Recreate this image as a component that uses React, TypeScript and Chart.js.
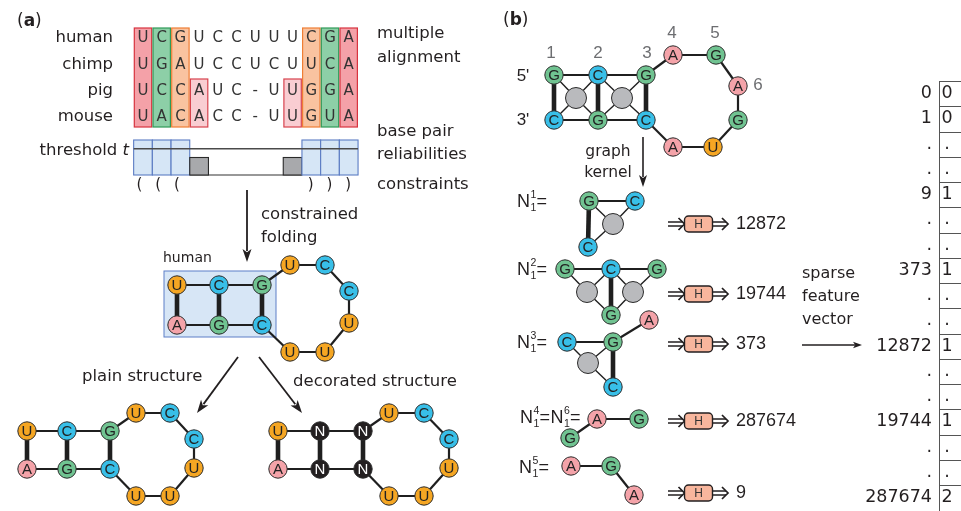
import { useEffect, useRef } from "react";
import { Chart, registerables } from "chart.js";

Chart.register(...registerables);

const W = 961;
const H = 511;

// ---------------- Panel (a) data ----------------
const SPECIES = ["human", "chimp", "pig", "mouse"];
const ALIGNMENT = ["UCGUCCUUUCGA", "UGAUCCUCUUCA", "UCCAUC-UUGGA", "UACACC-UUGUA"];
const COLUMN_HIGHLIGHT = ["red", "green", "orange", "pink", "", "", "", "", "pink", "orange", "green", "red"];
const RELIABILITY = [1, 1, 1, 0.5, 0, 0, 0, 0, 0.5, 1, 1, 1];
const THRESHOLD = 0.75;
const CONSTRAINTS = "(((......)))";

// ---------------- Structures (node: x, y, base; "" = grey) ----------------
type Node = [number, number, string];
type Edge = [number, number, "t" | "T" | "d"];

const HAIRPIN_EDGES: Edge[] = [
  [0, 1, "t"], [1, 2, "t"], [3, 4, "t"], [4, 5, "t"],
  [0, 3, "T"], [1, 4, "T"], [2, 5, "T"],
  [2, 6, "t"], [6, 7, "t"], [7, 8, "t"], [8, 9, "t"], [9, 10, "t"], [10, 11, "t"], [11, 5, "t"],
];

const HUMAN_NODES: Node[] = [
  [177, 285, "U"], [219, 285, "C"], [262, 285, "G"],
  [177, 325, "A"], [219, 325, "G"], [262, 325, "C"],
  [290, 265, "U"], [325, 265, "C"], [349, 291, "C"], [349, 323, "U"], [325, 352, "U"], [290, 352, "U"],
];
const PLAIN_NODES: Node[] = [
  [27, 431, "U"], [67, 431, "C"], [110, 431, "G"],
  [27, 469, "A"], [67, 469, "G"], [110, 469, "C"],
  [136, 413, "U"], [170, 413, "C"], [194, 439, "C"], [194, 468, "U"], [170, 496, "U"], [136, 496, "U"],
];
const DECORATED_NODES: Node[] = [
  [278, 431, "U"], [320, 431, "N"], [363, 431, "N"],
  [278, 469, "A"], [320, 469, "N"], [363, 469, "N"],
  [389, 413, "U"], [424, 413, "C"], [449, 439, "C"], [449, 468, "U"], [424, 496, "U"], [389, 496, "U"],
];

const MAIN_NODES: Node[] = [
  [554, 75, "G"], [598, 75, "C"], [646, 75, "G"],
  [554, 120, "C"], [598, 120, "G"], [646, 120, "C"],
  [576, 98, ""], [622, 98, ""],
  [673, 55, "A"], [716, 55, "G"], [738, 86, "A"], [738, 120, "G"], [713, 147, "U"], [673, 147, "A"],
];
const MAIN_EDGES: Edge[] = [
  [0, 1, "t"], [1, 2, "t"], [3, 4, "t"], [4, 5, "t"],
  [0, 3, "T"], [1, 4, "T"], [2, 5, "T"],
  [0, 6, "d"], [6, 4, "d"], [3, 6, "d"], [6, 1, "d"],
  [1, 7, "d"], [7, 5, "d"], [4, 7, "d"], [7, 2, "d"],
  [2, 8, "t"], [8, 9, "t"], [9, 10, "t"], [10, 11, "t"], [11, 12, "t"], [12, 13, "t"], [13, 5, "t"],
];

const N1_NODES: Node[] = [[589, 201, "G"], [635, 201, "C"], [613, 224, ""], [588, 247, "C"]];
const N1_EDGES: Edge[] = [[0, 1, "t"], [0, 3, "T"], [0, 2, "d"], [2, 1, "d"], [2, 3, "d"]];
const N2_NODES: Node[] = [
  [565, 269, "G"], [611, 269, "C"], [657, 269, "G"], [587, 292, ""], [633, 292, ""], [611, 315, "G"],
];
const N2_EDGES: Edge[] = [
  [0, 1, "t"], [1, 2, "t"], [1, 5, "T"], [0, 3, "d"], [3, 5, "d"], [3, 1, "d"], [1, 4, "d"], [4, 2, "d"], [4, 5, "d"],
];
const N3_NODES: Node[] = [[567, 342, "C"], [613, 342, "G"], [649, 320, "A"], [588, 363, ""], [613, 387, "C"]];
const N3_EDGES: Edge[] = [[0, 1, "t"], [1, 2, "t"], [1, 4, "T"], [0, 3, "d"], [3, 1, "d"], [3, 4, "d"]];
const N4_NODES: Node[] = [[597, 419, "A"], [639, 419, "G"], [570, 438, "G"]];
const N4_EDGES: Edge[] = [[0, 1, "t"], [0, 2, "t"]];
const N5_NODES: Node[] = [[571, 466, "A"], [611, 466, "G"], [634, 495, "A"]];
const N5_EDGES: Edge[] = [[0, 1, "t"], [1, 2, "t"]];

const GRAPHS: { nodes: Node[]; edges: Edge[] }[] = [
  { nodes: HUMAN_NODES, edges: HAIRPIN_EDGES },
  { nodes: PLAIN_NODES, edges: HAIRPIN_EDGES },
  { nodes: DECORATED_NODES, edges: HAIRPIN_EDGES },
  { nodes: MAIN_NODES, edges: MAIN_EDGES },
  { nodes: N1_NODES, edges: N1_EDGES },
  { nodes: N2_NODES, edges: N2_EDGES },
  { nodes: N3_NODES, edges: N3_EDGES },
  { nodes: N4_NODES, edges: N4_EDGES },
  { nodes: N5_NODES, edges: N5_EDGES },
];

// ---------------- Panel (b) data ----------------
const NODE_NUMBERS = ["1", "2", "3", "4", "5", "6"];
const NEIGHBORHOODS = [["1"], ["2"], ["3"], ["4", "6"], ["5"]];
const HASHES = ["12872", "19744", "373", "287674", "9"];
const VECTOR_INDEX = ["0", "1", ".", ".", "9", ".", ".", "373", ".", ".", "12872", ".", ".", "19744", ".", ".", "287674"];
const VECTOR_VALUE = ["0", "0", ".", ".", "1", ".", ".", "1", ".", ".", "1", ".", ".", "1", ".", ".", "2"];

// ---------------- Layout / style ----------------
const COL0 = 143;
const COL_STEP = 18.7;
const ROW_Y = [38, 65, 91, 117];
const ALIGN_TOP = 28;
const ALIGN_BOTTOM = 127;
const PINK_TOP = 79;
const REL_BASE = 175;
const REL_FULL = 35;
const NUMBER_POS = [[551, 53], [598, 53], [647, 53], [672, 33], [715, 33], [758, 85]];
const N_LABEL_POS = [[517, 202], [517, 270], [517, 343], [520, 418], [519, 468]];
const H_Y = [224, 294, 344, 421, 493];
const VEC_TOP = 81;
const VEC_STEP = 25.25;

const HL: Record<string, [string, string]> = {
  red: ["#f4a1a8", "#d8333f"],
  green: ["#8dcfa7", "#2f9a58"],
  orange: ["#f9c3a0", "#ef7e34"],
  pink: ["#f9cdd2", "#d8434e"],
};
const BASE_COLOR: Record<string, string> = {
  A: "#f4a3a9",
  C: "#38bfe8",
  G: "#70c391",
  U: "#f5a623",
  N: "#231f20",
  "": "#b9babd",
};
const EDGE_W = { t: 2.2, T: 4.6, d: 1.4 };
const INK = "#231f20";
const DJ = "DejaVu Sans";
const LS = "Liberation Sans";

const ALL_NODES: Node[] = GRAPHS.flatMap((g) => g.nodes);

function buildDatasets() {
  const nodeDs: any = {
    type: "scatter",
    data: ALL_NODES.map((n) => ({ x: n[0], y: n[1] })),
    pointRadius: ALL_NODES.map((n) => (n[2] ? 9.2 : 10.5)),
    pointHoverRadius: ALL_NODES.map((n) => (n[2] ? 9.2 : 10.5)),
    pointBackgroundColor: ALL_NODES.map((n) => BASE_COLOR[n[2]]),
    pointBorderColor: "#2b2b2b",
    pointBorderWidth: 1,
    order: 1,
  };
  const edgeDs: any[] = GRAPHS.flatMap((g) =>
    g.edges.map(([a, b, k]) => ({
      type: "scatter",
      showLine: true,
      data: [
        { x: g.nodes[a][0], y: g.nodes[a][1] },
        { x: g.nodes[b][0], y: g.nodes[b][1] },
      ],
      borderColor: "#1f1f1f",
      borderWidth: EDGE_W[k],
      pointRadius: 0,
      pointHoverRadius: 0,
      order: 2,
    }))
  );
  return [nodeDs, ...edgeDs];
}

function txt(ctx: CanvasRenderingContext2D, s: string, x: number, y: number, font: string, align: CanvasTextAlign = "left", color = INK) {
  ctx.font = font;
  ctx.textAlign = align;
  ctx.textBaseline = "middle";
  ctx.fillStyle = color;
  ctx.fillText(s, x, y);
}

function arrow(ctx: CanvasRenderingContext2D, x0: number, y0: number, x1: number, y1: number, lw = 1.8, hl = 13, hw = 4.5) {
  const a = Math.atan2(y1 - y0, x1 - x0);
  const bx = x1 - Math.cos(a) * (hl - 2);
  const by = y1 - Math.sin(a) * (hl - 2);
  ctx.strokeStyle = INK;
  ctx.fillStyle = INK;
  ctx.lineWidth = lw;
  ctx.beginPath();
  ctx.moveTo(x0, y0);
  ctx.lineTo(bx, by);
  ctx.stroke();
  const hx = x1 - Math.cos(a) * hl;
  const hy = y1 - Math.sin(a) * hl;
  ctx.beginPath();
  ctx.moveTo(x1, y1);
  ctx.lineTo(hx + Math.sin(a) * hw, hy - Math.cos(a) * hw);
  ctx.lineTo(x1 - Math.cos(a) * (hl * 0.75), y1 - Math.sin(a) * (hl * 0.75));
  ctx.lineTo(hx - Math.sin(a) * hw, hy + Math.cos(a) * hw);
  ctx.closePath();
  ctx.fill();
}

function doubleArrow(ctx: CanvasRenderingContext2D, x0: number, x1: number, y: number) {
  ctx.strokeStyle = INK;
  ctx.lineWidth = 1.5;
  ctx.beginPath();
  ctx.moveTo(x0, y - 2);
  ctx.lineTo(x1 - 2, y - 2);
  ctx.moveTo(x0, y + 2);
  ctx.lineTo(x1 - 2, y + 2);
  ctx.stroke();
  ctx.lineWidth = 1.7;
  ctx.beginPath();
  ctx.moveTo(x1 - 6, y - 6);
  ctx.lineTo(x1, y);
  ctx.lineTo(x1 - 6, y + 6);
  ctx.stroke();
}

const diagramPlugin = {
  id: "diagram",
  beforeDatasetsDraw(chart: any) {
    const ctx: CanvasRenderingContext2D = chart.ctx;
    const X = (v: number) => chart.scales.x.getPixelForValue(v);
    const Y = (v: number) => chart.scales.y.getPixelForValue(v);
    ctx.save();
    // alignment highlight boxes
    COLUMN_HIGHLIGHT.forEach((k, i) => {
      if (!k) return;
      const [fill, stroke] = HL[k];
      const c = COL0 + COL_STEP * i;
      const top = k === "pink" ? PINK_TOP : ALIGN_TOP;
      ctx.fillStyle = fill;
      ctx.strokeStyle = stroke;
      ctx.lineWidth = 1.2;
      ctx.fillRect(X(c - 8.7), Y(top), X(c + 8.7) - X(c - 8.7), Y(ALIGN_BOTTOM) - Y(top));
      ctx.strokeRect(X(c - 8.7), Y(top), X(c + 8.7) - X(c - 8.7), Y(ALIGN_BOTTOM) - Y(top));
    });
    // reliability bars
    const firstLow = RELIABILITY.findIndex((r) => r < THRESHOLD);
    const lastLow = RELIABILITY.length - 1 - [...RELIABILITY].reverse().findIndex((r) => r < THRESHOLD);
    ctx.strokeStyle = "#333";
    ctx.lineWidth = 1.2;
    ctx.beginPath();
    ctx.moveTo(X(COL0 + COL_STEP * firstLow - 9.35), Y(REL_BASE));
    ctx.lineTo(X(COL0 + COL_STEP * lastLow + 9.35), Y(REL_BASE));
    ctx.stroke();
    RELIABILITY.forEach((r, i) => {
      if (r <= 0) return;
      const c = COL0 + COL_STEP * i;
      const top = REL_BASE - r * REL_FULL;
      const hi = r >= THRESHOLD;
      ctx.fillStyle = hi ? "#d6e6f6" : "#a8a9ac";
      ctx.strokeStyle = hi ? "#5b7cc4" : "#2a2a2a";
      ctx.lineWidth = 1.1;
      const x0 = X(c - 9.35), x1 = X(c + 9.35);
      ctx.fillRect(x0, Y(top), x1 - x0, Y(REL_BASE) - Y(top));
      ctx.strokeRect(x0, Y(top), x1 - x0, Y(REL_BASE) - Y(top));
    });
    ctx.strokeStyle = "#4a4a4a";
    ctx.lineWidth = 1.6;
    ctx.beginPath();
    const ty = Y(REL_BASE - THRESHOLD * REL_FULL);
    ctx.moveTo(X(COL0 - 9.35), ty);
    ctx.lineTo(X(COL0 + COL_STEP * 11 + 9.35), ty);
    ctx.stroke();
    // human stem box
    ctx.fillStyle = "#d7e6f6";
    ctx.strokeStyle = "#5d7fc7";
    ctx.lineWidth = 1;
    ctx.fillRect(X(164), Y(271), X(276) - X(164), Y(337) - Y(271));
    ctx.strokeRect(X(164), Y(271), X(276) - X(164), Y(337) - Y(271));
    // feature vector grid
    ctx.strokeStyle = "#555";
    ctx.lineWidth = 1;
    ctx.beginPath();
    ctx.moveTo(X(939.5), Y(VEC_TOP));
    ctx.lineTo(X(939.5), Y(H));
    for (let k = 0; k < VECTOR_VALUE.length; k++) {
      const yy = Math.round(Y(VEC_TOP + VEC_STEP * k)) + 0.5;
      ctx.moveTo(X(939.5), yy);
      ctx.lineTo(X(W), yy);
    }
    ctx.stroke();
    ctx.restore();
  },
  afterDatasetsDraw(chart: any) {
    const ctx: CanvasRenderingContext2D = chart.ctx;
    const X = (v: number) => chart.scales.x.getPixelForValue(v);
    const Y = (v: number) => chart.scales.y.getPixelForValue(v);
    ctx.save();

    // node letters
    const meta = chart.getDatasetMeta(0);
    meta.data.forEach((el: any, i: number) => {
      const b = ALL_NODES[i][2];
      if (!b) return;
      txt(ctx, b, el.x, el.y + 0.5, `15px ${LS}`, "center", b === "N" ? "#ffffff" : "#222");
    });

    // ---------- panel (a) ----------
    ctx.textBaseline = "middle";
    ctx.font = `17px ${DJ}`;
    ctx.fillStyle = INK;
    ctx.textAlign = "left";
    let px = X(17);
    ctx.fillText("(", px, Y(22));
    px += ctx.measureText("(").width;
    ctx.font = `bold 17px ${DJ}`;
    ctx.fillText("a", px, Y(22));
    px += ctx.measureText("a").width;
    ctx.font = `17px ${DJ}`;
    ctx.fillText(")", px, Y(22));

    SPECIES.forEach((s, r) => txt(ctx, s, X(113), Y(ROW_Y[r]), `16.5px ${DJ}`, "right"));
    ALIGNMENT.forEach((seq, r) =>
      seq.split("").forEach((ch, i) => txt(ctx, ch, X(COL0 + COL_STEP * i), Y(ROW_Y[r]), `15px ${DJ}`, "center", "#333"))
    );
    txt(ctx, "multiple", X(377), Y(34), `16.5px ${DJ}`);
    txt(ctx, "alignment", X(377), Y(58), `16.5px ${DJ}`);
    txt(ctx, "base pair", X(377), Y(132), `16.5px ${DJ}`);
    txt(ctx, "reliabilities", X(377), Y(155), `16.5px ${DJ}`);
    txt(ctx, "constraints", X(377), Y(185), `16.5px ${DJ}`);

    ctx.font = `italic 16.5px ${DJ}`;
    const tw = ctx.measureText("t").width;
    txt(ctx, "t", X(129), Y(151), `italic 16.5px ${DJ}`, "right");
    txt(ctx, "threshold ", X(129) - tw, Y(151), `16.5px ${DJ}`, "right");

    CONSTRAINTS.split("").forEach((ch, i) => {
      if (ch === ".") return;
      const off = ch === "(" ? -3.5 : -0.5;
      txt(ctx, ch, X(COL0 + COL_STEP * i + off), Y(185), `15px ${DJ}`, "center");
    });

    arrow(ctx, X(247), Y(190), X(247), Y(262));
    txt(ctx, "constrained", X(261), Y(215), `16.5px ${DJ}`);
    txt(ctx, "folding", X(261), Y(238), `16.5px ${DJ}`);
    txt(ctx, "human", X(163), Y(258), `14px ${DJ}`);
    arrow(ctx, X(238), Y(357), X(197), Y(413));
    arrow(ctx, X(259), Y(357), X(302), Y(413));
    txt(ctx, "plain structure", X(82), Y(377), `16.5px ${DJ}`);
    txt(ctx, "decorated structure", X(293), Y(382), `16.5px ${DJ}`);

    // ---------- panel (b) ----------
    ctx.font = `17px ${DJ}`;
    ctx.textAlign = "left";
    px = X(503);
    ctx.fillStyle = INK;
    ctx.fillText("(", px, Y(21));
    px += ctx.measureText("(").width;
    ctx.font = `bold 17px ${DJ}`;
    ctx.fillText("b", px, Y(21));
    px += ctx.measureText("b").width;
    ctx.font = `17px ${DJ}`;
    ctx.fillText(")", px, Y(21));

    NODE_NUMBERS.forEach((n, i) => txt(ctx, n, X(NUMBER_POS[i][0]), Y(NUMBER_POS[i][1]), `17px ${LS}`, "center", "#6d6e71"));
    txt(ctx, "5'", X(523), Y(76), `17px ${LS}`, "center");
    txt(ctx, "3'", X(523), Y(120), `17px ${LS}`, "center");
    txt(ctx, "graph", X(608), Y(152), `15.5px ${DJ}`, "center");
    txt(ctx, "kernel", X(608), Y(173), `15.5px ${DJ}`, "center");
    arrow(ctx, X(643), Y(137), X(643), Y(187), 1.6, 12, 4);

    NEIGHBORHOODS.forEach((sups, r) => {
      let x = X(N_LABEL_POS[r][0]);
      const y = Y(N_LABEL_POS[r][1]);
      sups.forEach((s) => {
        ctx.font = `18px ${LS}`;
        const nw = ctx.measureText("N").width;
        txt(ctx, "N", x, y, `18px ${LS}`);
        txt(ctx, s, x + nw + 0.5, y - 6.5, `10.5px ${LS}`);
        txt(ctx, "1", x + nw + 0.5, y + 6.5, `10.5px ${LS}`);
        x += nw + 6.5;
        txt(ctx, "=", x, y, `18px ${LS}`);
        ctx.font = `18px ${LS}`;
        x += ctx.measureText("=").width + 0.5;
      });
      const hy = Y(H_Y[r]);
      doubleArrow(ctx, X(668), X(684.5), hy);
      ctx.beginPath();
      ctx.roundRect(X(684.5), hy - 8, 28, 16, 4);
      ctx.fillStyle = "#f8b69d";
      ctx.fill();
      ctx.strokeStyle = INK;
      ctx.lineWidth = 1.4;
      ctx.stroke();
      txt(ctx, "H", X(698.5), hy + 0.5, `12px ${LS}`, "center", "#333");
      doubleArrow(ctx, X(713), X(728), hy);
      txt(ctx, HASHES[r], X(736), hy, `18px ${LS}`);
    });

    txt(ctx, "sparse", X(802), Y(274), `16px ${DJ}`);
    txt(ctx, "feature", X(802), Y(297), `16px ${DJ}`);
    txt(ctx, "vector", X(802), Y(320), `16px ${DJ}`);
    arrow(ctx, X(802), Y(345), X(862), Y(345), 1.4, 9, 3.2);

    VECTOR_INDEX.forEach((lab, i) => {
      const y = Y(VEC_TOP + VEC_STEP * (i + 0.5));
      txt(ctx, lab, X(932), y, `17.5px ${DJ}`, "right");
      txt(ctx, VECTOR_VALUE[i], X(947), y, `17.5px ${DJ}`, "center");
    });

    ctx.restore();
  },
};

export default function App() {
  const ref = useRef<HTMLCanvasElement>(null);
  useEffect(() => {
    document.body.style.margin = "0";
    const canvas = ref.current;
    if (!canvas) return;
    const chart = new Chart(canvas, {
      type: "scatter",
      data: { datasets: buildDatasets() as any },
      options: {
        responsive: false,
        animation: false,
        events: [],
        layout: { padding: 0, autoPadding: false },
        plugins: { legend: { display: false }, tooltip: { enabled: false } },
        scales: {
          x: { type: "linear", min: 0, max: W, display: false },
          y: { type: "linear", min: 0, max: H, reverse: true, display: false },
        },
      } as any,
      plugins: [diagramPlugin as any],
    });
    return () => chart.destroy();
  }, []);
  return <canvas ref={ref} width={W} height={H} style={{ display: "block", background: "#ffffff" }} />;
}
